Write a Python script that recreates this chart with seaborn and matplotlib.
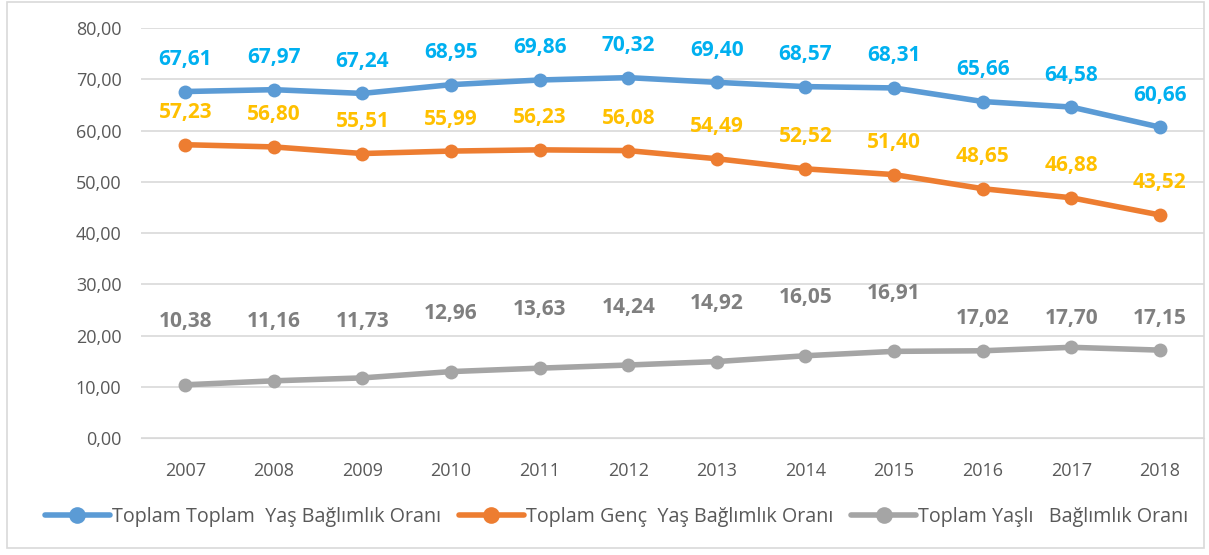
import pandas as pd
import matplotlib.pyplot as plt
import seaborn as sns
from matplotlib.patches import Rectangle

years = ['2007', '2008', '2009', '2010', '2011', '2012', '2013', '2014', '2015', '2016', '2017', '2018']
toplam = [67.61, 67.97, 67.24, 68.95, 69.86, 70.32, 69.40, 68.57, 68.31, 65.66, 64.58, 60.66]
genc = [57.23, 56.80, 55.51, 55.99, 56.23, 56.08, 54.49, 52.52, 51.40, 48.65, 46.88, 43.52]
yasli = [10.38, 11.16, 11.73, 12.96, 13.63, 14.24, 14.92, 16.05, 16.91, 17.02, 17.70, 17.15]

names = ['Toplam Toplam  Yaş Bağlımlık Oranı', 'Toplam Genç  Yaş Bağlımlık Oranı', 'Toplam Yaşlı   Bağlımlık Oranı']
line_colors = ['#5B9BD5', '#ED7D31', '#A5A5A5']
label_colors = ['#00B0F0', '#FFC000', '#7F7F7F']

df = pd.DataFrame({'yil': years * 3,
                   'deger': toplam + genc + yasli,
                   'seri': [names[0]] * 12 + [names[1]] * 12 + [names[2]] * 12})

sns.set_style('white')
plt.rcParams['font.family'] = ['Open Sans', 'DejaVu Sans']

fig = plt.figure(figsize=(12.09, 5.55), dpi=100)
ax = fig.add_axes([0.1166, 0.2108, 0.8794, 0.7387])

sns.lineplot(data=df, x='yil', y='deger', hue='seri', palette=line_colors,
             marker='o', markersize=10, markeredgewidth=0, linewidth=4, ax=ax, legend=True)

# veri etiketleri (etiketlerin noktanin ne kadar ustunde oldugu, piksel)
off_toplam = [32] * 12
off_genc = [32] * 12
off_yasli = [63, 59, 56, 58, 59, 58, 58, 58, 58, 32, 29, 32]
for vals, c, offs in zip([toplam, genc, yasli], label_colors, [off_toplam, off_genc, off_yasli]):
    for i, v in enumerate(vals):
        ax.annotate(f'{v:.2f}'.replace('.', ','), (i, v), xytext=(0, offs[i] * 0.72), textcoords='offset points',
                    ha='center', va='center', color=c, fontsize=15, fontweight='bold')

ax.set_ylim(0, 80)
ax.set_xlim(-0.5, 11.5)
ax.set_yticks(range(0, 81, 10))
ax.set_yticklabels([f'{t},00' for t in range(0, 81, 10)])
ax.yaxis.grid(True, color='#D9D9D9', linewidth=1.2)
ax.xaxis.grid(False)
for s in ['top', 'right', 'left']:
    ax.spines[s].set_visible(False)
ax.spines['bottom'].set_color('#D9D9D9')
ax.tick_params(axis='both', labelsize=13, colors='#595959', length=0)
ax.tick_params(axis='y', pad=14)
ax.tick_params(axis='x', pad=17)
ax.set_xlabel('')
ax.set_ylabel('')

handles, labels = ax.get_legend_handles_labels()
ax.get_legend().remove()
for h in handles:
    h.set_markersize(12)
fig.legend(handles, labels, loc='center', bbox_to_anchor=(0.51, 0.068), ncol=3, frameon=False,
           fontsize=14.2, handlelength=3.3, handletextpad=0.1, columnspacing=0.9,
           labelcolor='#595959')

fig.patches.append(Rectangle((0.006, 0.012), 0.99, 0.985, transform=fig.transFigure,
                             fill=False, edgecolor='#D9D9D9', linewidth=1.2))

fig.savefig('out.png', dpi=100)
